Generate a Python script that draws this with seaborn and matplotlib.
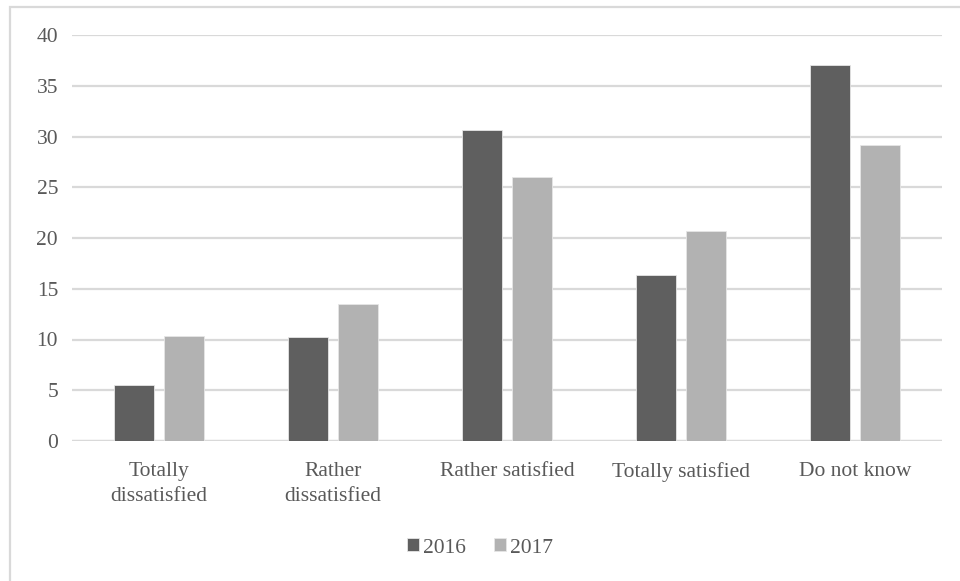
import matplotlib
matplotlib.use("Agg")
import matplotlib.pyplot as plt
from matplotlib.patches import Rectangle
import seaborn as sns
import pandas as pd

categories = ["Totally\ndissatisfied", "Rather\ndissatisfied", "Rather satisfied",
              "Totally satisfied", "Do not know"]
years = ["2016", "2017"]
values_2016 = [5.5, 10.2, 30.6, 16.4, 37.0]
values_2017 = [10.3, 13.5, 26.0, 20.7, 29.2]
y_ticks = [0, 5, 10, 15, 20, 25, 30, 35, 40]

df = pd.DataFrame({
    "category": categories * 2,
    "year": [years[0]] * len(categories) + [years[1]] * len(categories),
    "value": values_2016 + values_2017,
})

sns.set_theme(style="white")
plt.rcParams["font.family"] = ["Liberation Serif", "DejaVu Serif"]
text_color = "#595959"
grid_color = "#d9d9d9"
fs = 15.5

fig = plt.figure(figsize=(9.6, 5.81), dpi=100)
ax = fig.add_axes([72 / 960, 1 - 441 / 581, 870 / 960, 406 / 581])

sns.barplot(data=df, x="category", y="value", hue="year",
            palette=["#5f5f5f", "#b2b2b2"], width=0.575, gap=0.2,
            edgecolor="#e6e6e6", linewidth=0.6, ax=ax, zorder=3)

ax.set_ylim(0, 40)
ax.set_xlim(-0.5, len(categories) - 0.5)
ax.set_yticks(y_ticks)
ax.yaxis.grid(True, color=grid_color, linewidth=1.6, zorder=0)
ax.set_axisbelow(True)
for side in ["top", "right", "left", "bottom"]:
    ax.spines[side].set_visible(False)
ax.axhline(0, color=grid_color, linewidth=1.6, zorder=1)
ax.set_xlabel("")
ax.set_ylabel("")
ax.tick_params(axis="both", length=0, labelsize=fs, colors=text_color)
ax.tick_params(axis="y", pad=10)
ax.tick_params(axis="x", pad=15)
for lbl in ax.get_xticklabels():
    lbl.set_linespacing(1.45)

handles, labels = ax.get_legend_handles_labels()
ax.legend_.remove()
fig.legend(handles, labels, loc="center", bbox_to_anchor=(0.5, 1 - 548 / 581),
           ncol=2, frameon=False, fontsize=fs, labelcolor=text_color,
           handlelength=0.55, handleheight=0.55, handletextpad=0.2, columnspacing=1.3)

fig.patches.append(Rectangle((10 / 960, -0.05), 1.2, 1 - 7 / 581 + 0.05,
                             transform=fig.transFigure, fill=False,
                             edgecolor=grid_color, linewidth=1.6))

fig.savefig("out.png", dpi=100)
